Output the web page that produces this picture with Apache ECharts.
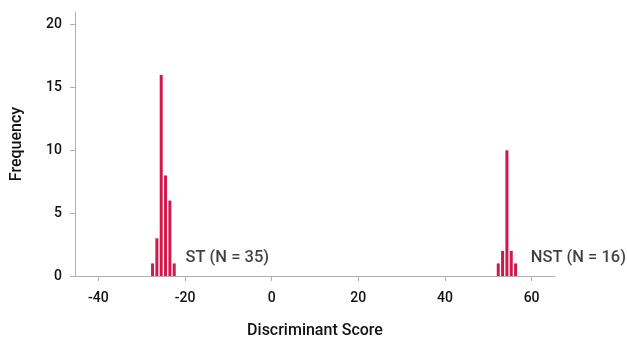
<!DOCTYPE html>
<html><head><meta charset="utf-8">
<script src="https://cdn.jsdelivr.net/npm/echarts@6/dist/echarts.min.js"></script>
<style>html,body{margin:0;padding:0;background:#fff}#c{width:627px;height:344px}</style>
</head><body><div id="c"></div>
<script>
const stBins = [-27.5, -26.5, -25.5, -24.5, -23.5, -22.5];
const stCounts = [1, 3, 16, 8, 6, 1];
const nstBins = [52.3, 53.3, 54.3, 55.3, 56.3];
const nstCounts = [1, 2, 10, 2, 1];
const xTicks = [-40, -20, 0, 20, 40, 60];
const yTicks = [0, 5, 10, 15, 20];
const groupLabels = ['ST (N = 35)', 'NST (N = 16)'];
const labelPos = [[-19.9, 1.45], [59.8, 1.45]];

const font = 'Roboto, "DejaVu Sans", sans-serif';
const barData = stBins.map((b, i) => [b, stCounts[i]]).concat(nstBins.map((b, i) => [b, nstCounts[i]]));

const chart = echarts.init(document.getElementById('c'));
chart.setOption({
  animation: false,
  grid: { left: 75, right: 72, top: 12, bottom: 63, containLabel: false },
  xAxis: {
    type: 'value', min: -45.4, max: 65.4,
    name: 'Discriminant Score', nameLocation: 'middle', nameGap: 47,
    nameTextStyle: { fontFamily: font, fontSize: 16, fontWeight: 500, color: '#111' },
    axisLine: { show: true, onZero: false, lineStyle: { color: '#b0b0b0', width: 1 } },
    axisTick: { show: true, length: 5, lineStyle: { color: '#b0b0b0' }, customValues: xTicks },
    axisLabel: { fontFamily: font, fontSize: 14, fontWeight: 500, color: '#111', margin: 15, customValues: xTicks },
    splitLine: { show: false }
  },
  yAxis: {
    type: 'value', min: 0, max: 21,
    name: 'Frequency', nameLocation: 'middle', nameGap: 50, nameRotate: 90,
    nameTextStyle: { fontFamily: font, fontSize: 16, fontWeight: 500, color: '#111' },
    axisLine: { show: true, onZero: false, lineStyle: { color: '#b0b0b0', width: 1 } },
    axisTick: { show: true, length: 5, lineStyle: { color: '#b0b0b0' }, customValues: yTicks },
    axisLabel: { fontFamily: font, fontSize: 14, fontWeight: 500, color: '#111', margin: 13, customValues: yTicks },
    splitLine: { show: false }
  },
  series: [
    {
      type: 'bar', data: barData, barWidth: 3, barGap: '-100%',
      itemStyle: { color: '#d2184a' }
    },
    {
      type: 'scatter', symbolSize: 0, silent: true,
      data: labelPos.map((p, i) => ({ value: p, name: groupLabels[i] })),
      label: {
        show: true, position: 'right', distance: 0,
        formatter: p => p.name,
        fontFamily: font, fontSize: 16.5, fontWeight: 500, color: '#111'
      }
    }
  ]
});
</script></body></html>
